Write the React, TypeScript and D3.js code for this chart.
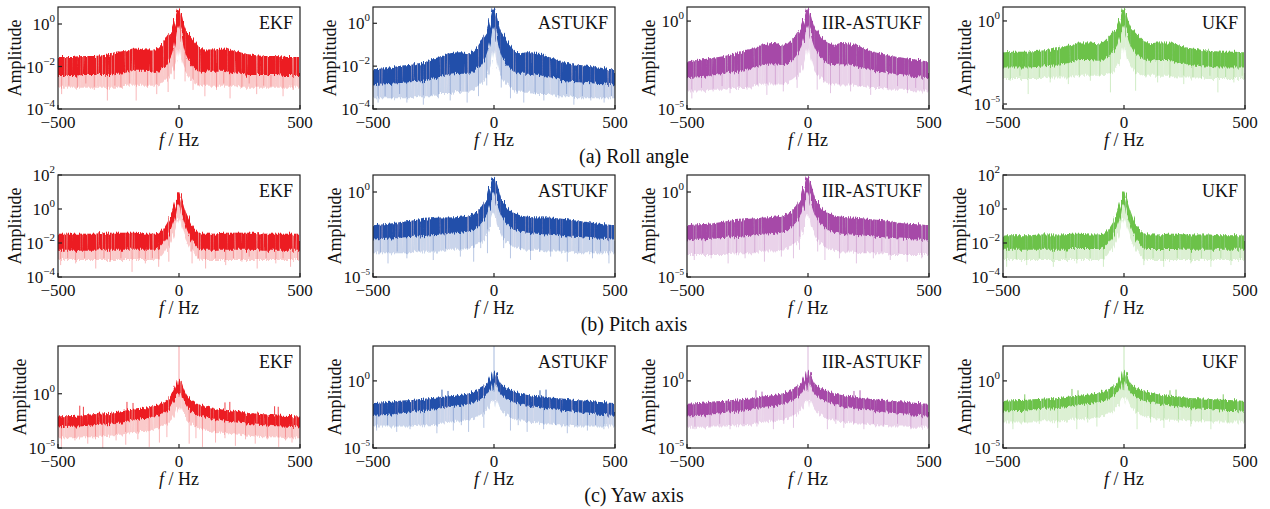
import React from "react";
import * as d3 from "d3";

// frequency grid (Hz) for the positive half, spectra are mirrored about 0
const FREQ_HALF = [0, 4, 8, 12, 18, 25, 35, 50, 70, 100, 140, 180, 220, 260, 300, 350, 400, 450, 500];
const FILTERS = ["EKF", "ASTUKF", "IIR-ASTUKF", "UKF"];
const COLORS = ["#ec1c24", "#2150aa", "#a64aa8", "#6cc24a"];
const ROW_CAPTIONS = ["(a) Roll angle", "(b) Pitch axis", "(c) Yaw axis"];
const X_TICKS = [-500, 0, 500];

// y ranges as log10 exponents, and the decade ticks shown
const ROLL_RANGES = [[-4, 0.8], [-4, 0.76], [-5, 0.8], [-5.3, 0.84]];
const PITCH_RANGES = [[-4, 2], [-5, 1], [-5, 1], [-4, 2]];
const YAW_RANGES = [[-5, 4.4], [-5, 2.6], [-5, 2.6], [-5, 2.6]];
const ROLL_TICKS = [[0, -2, -4], [0, -2, -4], [0, -5], [0, -5]];
const PITCH_TICKS = [[2, 0, -2, -4], [0, -5], [0, -5], [2, 0, -2, -4]];
const YAW_TICKS = [[0, -5], [0, -5], [0, -5], [0, -5]];

// log10 amplitude: top of band, lower edge of the dense core, lower edge of the light fringe
const ROLL_EKF_TOP = [0.75, 0.7, 0.55, 0.4, 0.1, -0.2, -0.4, -0.6, -0.9, -1.2, -1.2, -1.15, -1.25, -1.35, -1.45, -1.5, -1.5, -1.55, -1.55];
const ROLL_EKF_CORE = [-0.2, -0.1, -0.3, -0.6, -1.0, -1.3, -1.6, -1.9, -2.1, -2.3, -2.2, -2.2, -2.3, -2.35, -2.4, -2.4, -2.4, -2.45, -2.45];
const ROLL_EKF_FLOOR = [-1.5, -1.2, -1.5, -1.8, -2.0, -2.2, -2.4, -2.6, -2.8, -2.9, -2.9, -2.9, -2.9, -3.0, -3.0, -3.0, -3.0, -3.0, -3.0];
const ROLL_EKF_DIPS = [[-485, -3.3], [-455, -2.9], [-420, -3.0], [-385, -2.8], [-350, -3.1], [-296, -3.6], [-265, -2.9], [-240, -3.0], [-205, -2.8], [-177, -3.6], [-130, -3.0], [-92, -3.3], [-45, -3.2], [-20, -2.6], [25, -2.7], [58, -3.1], [80, -2.9], [107, -3.4], [155, -3.1], [185, -2.8], [211, -3.5], [260, -3.0], [290, -2.8], [321, -3.3], [350, -2.9], [380, -3.0], [430, -3.4], [471, -3.1]];

const ROLL_AST_TOP = [0.75, 0.7, 0.5, 0.3, 0.0, -0.3, -0.5, -0.75, -1.1, -1.4, -1.35, -1.4, -1.55, -1.7, -1.85, -1.95, -2.0, -2.1, -2.15];
const ROLL_AST_CORE = [-0.3, -0.2, -0.4, -0.7, -1.0, -1.3, -1.6, -1.9, -2.1, -2.35, -2.35, -2.4, -2.5, -2.6, -2.7, -2.75, -2.8, -2.85, -2.9];
const ROLL_AST_FLOOR = [-1.5, -1.3, -1.6, -1.9, -2.2, -2.4, -2.6, -2.8, -3.0, -3.2, -3.2, -3.3, -3.3, -3.4, -3.4, -3.5, -3.5, -3.5, -3.5];
const ROLL_AST_DIPS = [[-479, -3.7], [-450, -3.4], [-422, -3.5], [-390, -3.3], [-360, -3.7], [-292, -3.8], [-260, -3.4], [-230, -3.5], [-181, -3.6], [-140, -3.3], [-111, -3.7], [-64, -3.4], [-30, -2.9], [30, -3.0], [68, -3.5], [95, -3.3], [123, -3.7], [170, -3.3], [206, -3.6], [268, -3.5], [300, -3.3], [330, -3.8], [365, -3.4], [400, -3.6], [455, -3.7], [485, -3.4]];

const ROLL_IIR_TOP = [0.8, 0.7, 0.5, 0.3, 0.0, -0.3, -0.5, -0.8, -1.1, -1.35, -1.25, -1.3, -1.5, -1.7, -1.85, -2.0, -2.1, -2.2, -2.3];
const ROLL_IIR_CORE = [-0.4, -0.3, -0.5, -0.8, -1.1, -1.4, -1.7, -2.0, -2.3, -2.5, -2.45, -2.5, -2.65, -2.8, -2.9, -3.0, -3.1, -3.2, -3.25];
const ROLL_IIR_FLOOR = [-1.8, -1.6, -1.9, -2.2, -2.5, -2.8, -3.0, -3.2, -3.4, -3.6, -3.6, -3.6, -3.7, -3.8, -3.8, -3.9, -3.9, -4.0, -4.0];
const ROLL_IIR_DIPS = [[-480, -4.4], [-440, -3.8], [-392, -4.0], [-355, -3.7], [-322, -4.1], [-285, -3.7], [-252, -3.9], [-210, -3.6], [-170, -4.2], [-135, -3.6], [-102, -4.0], [-45, -3.8], [38, -3.9], [65, -3.5], [93, -4.1], [130, -3.6], [176, -4.0], [215, -3.7], [259, -4.2], [295, -3.7], [328, -3.9], [370, -3.7], [411, -4.1], [445, -3.8], [479, -4.0]];

const ROLL_UKF_TOP = [0.8, 0.75, 0.55, 0.3, 0.0, -0.3, -0.5, -0.75, -1.05, -1.35, -1.3, -1.3, -1.45, -1.6, -1.7, -1.8, -1.85, -1.85, -1.9];
const ROLL_UKF_CORE = [-0.4, -0.3, -0.5, -0.8, -1.1, -1.4, -1.7, -1.95, -2.2, -2.4, -2.35, -2.35, -2.5, -2.6, -2.7, -2.75, -2.8, -2.8, -2.8];
const ROLL_UKF_FLOOR = [-1.8, -1.6, -1.9, -2.2, -2.5, -2.7, -2.9, -3.1, -3.2, -3.3, -3.3, -3.3, -3.4, -3.4, -3.4, -3.5, -3.5, -3.5, -3.5];
const ROLL_UKF_DIPS = [[-470, -3.6], [-430, -3.3], [-396, -4.4], [-350, -3.4], [-305, -3.7], [-265, -3.3], [-230, -3.8], [-185, -3.4], [-139, -3.6], [-100, -3.3], [-56, -4.3], [48, -4.2], [90, -3.4], [139, -3.7], [190, -3.4], [247, -3.8], [285, -3.4], [320, -3.5], [355, -3.3], [388, -4.3], [420, -3.4], [454, -3.7], [488, -3.3]];

const PITCH_EKF_TOP = [1.0, 0.95, 0.8, 0.6, 0.3, -0.05, -0.4, -0.85, -1.25, -1.45, -1.45, -1.4, -1.4, -1.4, -1.4, -1.45, -1.45, -1.45, -1.45];
const PITCH_EKF_CORE = [0.3, 0.2, 0.0, -0.3, -0.6, -0.9, -1.3, -1.75, -2.15, -2.4, -2.4, -2.4, -2.4, -2.4, -2.4, -2.45, -2.45, -2.45, -2.45];
const PITCH_EKF_FLOOR = [-0.5, -0.6, -0.8, -1.1, -1.4, -1.7, -2.0, -2.4, -2.8, -3.0, -3.0, -3.0, -3.0, -3.0, -3.0, -3.0, -3.0, -3.0, -3.0];
const PITCH_EKF_DIPS = [[-489, -3.3], [-460, -2.9], [-427, -3.2], [-390, -2.9], [-344, -3.5], [-310, -2.9], [-283, -3.1], [-240, -2.9], [-194, -3.7], [-165, -2.9], [-139, -3.2], [-110, -2.9], [-84, -3.4], [-42, -3.1], [54, -3.2], [80, -2.9], [110, -3.5], [150, -2.9], [193, -3.3], [225, -2.9], [260, -3.1], [290, -2.8], [323, -3.5], [360, -2.9], [400, -3.2], [430, -2.9], [461, -3.4], [490, -3.0]];

const PITCH_AST_TOP = [0.9, 0.85, 0.7, 0.5, 0.2, -0.2, -0.5, -0.85, -1.15, -1.35, -1.45, -1.5, -1.5, -1.55, -1.6, -1.7, -1.8, -1.9, -1.95];
const PITCH_AST_CORE = [0.0, -0.1, -0.3, -0.6, -0.9, -1.2, -1.5, -1.8, -2.1, -2.3, -2.4, -2.45, -2.5, -2.55, -2.6, -2.65, -2.7, -2.75, -2.8];
const PITCH_AST_FLOOR = [-1.2, -1.3, -1.5, -1.8, -2.1, -2.4, -2.7, -2.9, -3.1, -3.3, -3.4, -3.4, -3.5, -3.5, -3.5, -3.6, -3.6, -3.6, -3.6];
const PITCH_AST_DIPS = [[-470, -3.6], [-438, -4.2], [-400, -3.5], [-360, -3.9], [-310, -3.5], [-251, -4.0], [-200, -3.5], [-139, -3.8], [-110, -3.4], [-84, -4.1], [-55, -3.3], [-27, -3.6], [40, -3.3], [68, -3.9], [110, -3.4], [151, -4.0], [190, -3.5], [234, -3.8], [270, -3.5], [303, -4.1], [350, -3.5], [407, -3.9], [440, -3.5], [475, -4.2]];

const PITCH_IIR_TOP = [0.95, 0.9, 0.75, 0.5, 0.2, -0.2, -0.5, -0.85, -1.15, -1.35, -1.45, -1.5, -1.55, -1.6, -1.65, -1.75, -1.85, -1.9, -1.95];
const PITCH_IIR_CORE = [0.0, -0.1, -0.3, -0.6, -0.9, -1.2, -1.5, -1.8, -2.1, -2.35, -2.45, -2.5, -2.55, -2.6, -2.65, -2.7, -2.75, -2.8, -2.85];
const PITCH_IIR_FLOOR = [-1.3, -1.4, -1.6, -1.9, -2.2, -2.5, -2.8, -3.0, -3.2, -3.4, -3.5, -3.5, -3.6, -3.6, -3.6, -3.7, -3.7, -3.7, -3.7];
const PITCH_IIR_DIPS = [[-470, -4.0], [-435, -3.6], [-400, -3.9], [-330, -4.2], [-295, -3.6], [-260, -3.9], [-220, -3.6], [-180, -4.1], [-110, -3.8], [-60, -3.9], [-35, -3.4], [40, -3.5], [70, -4.0], [130, -3.9], [165, -3.5], [200, -4.2], [235, -3.6], [270, -3.9], [305, -3.5], [340, -4.0], [375, -3.6], [410, -4.1], [470, -3.9]];

const PITCH_UKF_TOP = [1.05, 1.0, 0.85, 0.6, 0.3, -0.05, -0.45, -0.9, -1.3, -1.5, -1.5, -1.45, -1.45, -1.5, -1.5, -1.5, -1.55, -1.55, -1.57];
const PITCH_UKF_CORE = [0.3, 0.2, 0.0, -0.3, -0.6, -0.9, -1.3, -1.75, -2.15, -2.35, -2.35, -2.35, -2.35, -2.4, -2.4, -2.4, -2.4, -2.4, -2.4];
const PITCH_UKF_FLOOR = [-0.5, -0.6, -0.8, -1.1, -1.4, -1.7, -2.0, -2.4, -2.8, -3.0, -3.0, -3.0, -3.0, -3.0, -3.0, -3.0, -3.0, -3.0, -3.0];
const PITCH_UKF_DIPS = [[-485, -3.4], [-445, -3.0], [-402, -3.3], [-350, -2.9], [-292, -3.4], [-240, -2.9], [-195, -3.2], [-140, -2.9], [-85, -3.4], [82, -3.3], [120, -2.9], [164, -3.4], [220, -2.9], [276, -3.2], [320, -2.9], [359, -3.4], [400, -2.9], [442, -3.3], [480, -3.0]];

const YAW_EKF_TOP = [0.8, 1.2, 1.3, 1.0, 0.6, 0.2, -0.2, -0.55, -0.85, -1.1, -1.3, -1.45, -1.55, -1.7, -1.8, -1.9, -2.0, -2.05, -2.1];
const YAW_EKF_CORE = [-0.3, 0.0, 0.1, -0.2, -0.6, -0.9, -1.3, -1.6, -1.9, -2.1, -2.3, -2.45, -2.6, -2.7, -2.8, -2.9, -3.0, -3.05, -3.1];
const YAW_EKF_FLOOR = [-1.5, -1.3, -1.2, -1.5, -1.9, -2.2, -2.5, -2.8, -3.0, -3.3, -3.5, -3.6, -3.7, -3.8, -3.9, -4.0, -4.0, -4.1, -4.1];
const YAW_EKF_DIPS = [[-486, -4.9], [-430, -4.3], [-377, -4.6], [-345, -4.2], [-315, -5.0], [-260, -4.3], [-220, -4.7], [-170, -4.2], [-123, -4.9], [-81, -4.5], [-50, -4.0], [42, -4.6], [70, -4.1], [97, -4.9], [151, -4.5], [190, -4.1], [233, -4.8], [275, -4.2], [315, -4.6], [365, -4.2], [412, -4.9], [440, -4.3], [467, -4.5]];
const YAW_EKF_PEAKS = [[-410, -1.1], [-395, -1.2], [-215, -0.75], [-190, -0.85], [0, 4.5], [190, -0.8], [210, -0.75], [395, -1.15], [410, -1.2]];

const YAW_AST_TOP = [0.1, 0.6, 0.7, 0.5, 0.2, -0.1, -0.3, -0.5, -0.7, -0.9, -1.05, -1.15, -1.2, -1.3, -1.35, -1.45, -1.5, -1.6, -1.65];
const YAW_AST_CORE = [-0.8, -0.3, -0.2, -0.4, -0.7, -0.9, -1.1, -1.3, -1.5, -1.7, -1.85, -1.95, -2.05, -2.15, -2.25, -2.35, -2.45, -2.55, -2.6];
const YAW_AST_FLOOR = [-2.0, -1.5, -1.4, -1.6, -1.9, -2.1, -2.3, -2.5, -2.7, -2.9, -3.0, -3.1, -3.2, -3.3, -3.3, -3.4, -3.4, -3.4, -3.4];
const YAW_AST_DIPS = [[-485, -3.7], [-440, -3.3], [-402, -3.8], [-347, -3.6], [-290, -3.3], [-236, -3.9], [-168, -3.7], [-135, -3.3], [-105, -3.8], [-42, -3.5], [68, -3.7], [100, -3.3], [137, -3.8], [205, -3.6], [255, -3.3], [303, -3.9], [345, -3.3], [386, -3.7], [420, -3.3], [454, -3.6]];
const YAW_AST_PEAKS = [[-215, -0.65], [-190, -0.75], [0, 2.7], [190, -0.7], [215, -0.65]];

const YAW_IIR_TOP = [0.2, 0.65, 0.75, 0.5, 0.2, -0.1, -0.3, -0.5, -0.7, -0.9, -1.05, -1.15, -1.25, -1.35, -1.4, -1.5, -1.55, -1.65, -1.7];
const YAW_IIR_CORE = [-0.8, -0.3, -0.2, -0.4, -0.7, -0.9, -1.1, -1.3, -1.5, -1.7, -1.9, -2.0, -2.1, -2.2, -2.3, -2.4, -2.5, -2.6, -2.65];
const YAW_IIR_FLOOR = [-2.0, -1.5, -1.4, -1.6, -1.9, -2.1, -2.3, -2.5, -2.7, -2.9, -3.0, -3.1, -3.2, -3.3, -3.3, -3.4, -3.4, -3.5, -3.5];
const YAW_IIR_DIPS = [[-467, -3.6], [-405, -3.5], [-365, -3.2], [-322, -3.6], [-265, -3.2], [-211, -3.4], [-143, -3.6], [-100, -3.2], [-60, -3.5], [80, -3.6], [115, -3.2], [148, -3.5], [190, -3.2], [231, -3.6], [270, -3.2], [313, -3.4], [370, -3.2], [425, -3.6], [470, -3.3]];
const YAW_IIR_PEAKS = [[-215, -0.7], [-190, -0.8], [0, 2.7], [190, -0.75], [215, -0.7]];

const YAW_UKF_TOP = [0.2, 0.65, 0.75, 0.5, 0.2, -0.1, -0.3, -0.5, -0.7, -0.85, -1.0, -1.1, -1.15, -1.25, -1.3, -1.35, -1.4, -1.45, -1.5];
const YAW_UKF_CORE = [-0.7, -0.2, -0.1, -0.3, -0.6, -0.8, -1.0, -1.2, -1.4, -1.55, -1.7, -1.8, -1.9, -2.0, -2.05, -2.1, -2.2, -2.25, -2.3];
const YAW_UKF_FLOOR = [-1.8, -1.3, -1.2, -1.4, -1.7, -1.9, -2.1, -2.3, -2.5, -2.7, -2.8, -2.9, -2.9, -3.0, -3.0, -3.0, -3.1, -3.1, -3.1];
const YAW_UKF_DIPS = [[-459, -3.6], [-410, -3.1], [-350, -3.2], [-274, -3.5], [-195, -3.6], [-150, -3.1], [-112, -3.4], [54, -3.6], [110, -3.1], [165, -3.5], [225, -3.1], [276, -3.4], [320, -3.1], [359, -3.6], [430, -3.1]];
const YAW_UKF_PEAKS = [[-410, -1.0], [-215, -0.6], [-190, -0.7], [0, 2.7], [190, -0.7], [215, -0.65], [410, -1.0]];

const ROWS = [
  [
    [ROLL_EKF_TOP, ROLL_EKF_CORE, ROLL_EKF_FLOOR, ROLL_EKF_DIPS, []],
    [ROLL_AST_TOP, ROLL_AST_CORE, ROLL_AST_FLOOR, ROLL_AST_DIPS, []],
    [ROLL_IIR_TOP, ROLL_IIR_CORE, ROLL_IIR_FLOOR, ROLL_IIR_DIPS, []],
    [ROLL_UKF_TOP, ROLL_UKF_CORE, ROLL_UKF_FLOOR, ROLL_UKF_DIPS, []],
  ],
  [
    [PITCH_EKF_TOP, PITCH_EKF_CORE, PITCH_EKF_FLOOR, PITCH_EKF_DIPS, []],
    [PITCH_AST_TOP, PITCH_AST_CORE, PITCH_AST_FLOOR, PITCH_AST_DIPS, []],
    [PITCH_IIR_TOP, PITCH_IIR_CORE, PITCH_IIR_FLOOR, PITCH_IIR_DIPS, []],
    [PITCH_UKF_TOP, PITCH_UKF_CORE, PITCH_UKF_FLOOR, PITCH_UKF_DIPS, []],
  ],
  [
    [YAW_EKF_TOP, YAW_EKF_CORE, YAW_EKF_FLOOR, YAW_EKF_DIPS, YAW_EKF_PEAKS],
    [YAW_AST_TOP, YAW_AST_CORE, YAW_AST_FLOOR, YAW_AST_DIPS, YAW_AST_PEAKS],
    [YAW_IIR_TOP, YAW_IIR_CORE, YAW_IIR_FLOOR, YAW_IIR_DIPS, YAW_IIR_PEAKS],
    [YAW_UKF_TOP, YAW_UKF_CORE, YAW_UKF_FLOOR, YAW_UKF_DIPS, YAW_UKF_PEAKS],
  ],
];
const RANGES = [ROLL_RANGES, PITCH_RANGES, YAW_RANGES];
const TICKS = [ROLL_TICKS, PITCH_TICKS, YAW_TICKS];

// layout
const COL_LEFT = [58, 373, 687, 1003];
const ROW_TOP = [7, 175, 346];
const PW = 242;
const PH = 102;
const FONT = "'Liberation Serif', 'Times New Roman', serif";

const FREQ = [...FREQ_HALF.slice(1).reverse().map((f) => -f), ...FREQ_HALF];
const mirror = (half: number[]) => [...half.slice(1).reverse(), ...half];
const exp = (e: number) => (e < 0 ? "\u2212" + Math.abs(e) : String(e));

function Panel({ r, c }: { r: number; c: number }) {
  const [top, core, floor, dips, peaks] = ROWS[r][c] as any;
  const [lo, hi] = RANGES[r][c];
  const ticks = TICKS[r][c];
  const color = COLORS[c];
  const x = d3.scaleLinear().domain([-500, 500]).range([0, PW]);
  const y = d3.scaleLog().domain([10 ** lo, 10 ** hi]).range([PH, 0]);
  const up = mirror(top);
  const mid = mirror(core);
  const bot = mirror(floor);
  const pts = FREQ.map((f, i) => ({ f, up: 10 ** up[i], mid: 10 ** mid[i], bot: 10 ** bot[i] }));
  const coreAt = d3.scaleLinear().domain(FREQ).range(mid);
  const topAt = d3.scaleLinear().domain(FREQ).range(up);
  const fringe = d3.area<any>().x((d) => x(d.f)).y0((d) => y(d.bot)).y1((d) => y(d.up)).curve(d3.curveMonotoneX);
  const dense = d3.area<any>().x((d) => x(d.f)).y0((d) => y(d.mid)).y1((d) => y(d.up)).curve(d3.curveMonotoneX);
  const wide = ticks.some((t: number) => t < 0 && t > -5);
  const id = `clip-${r}-${c}`;
  return (
    <g transform={`translate(${COL_LEFT[c]},${ROW_TOP[r]})`}>
      <clipPath id={id}>
        <rect width={PW} height={PH} />
      </clipPath>
      <g clipPath={`url(#${id})`}>
        {dips.map(([f, v]: number[], i: number) => (
          <line key={"d" + i} x1={x(f)} x2={x(f)} y1={y(10 ** v)} y2={y(10 ** coreAt(f))} stroke={color} strokeOpacity={0.4} strokeWidth={0.8} />
        ))}
        <g filter="url(#rough)">
          <path d={fringe(pts) || ""} fill={color} fillOpacity={0.24} />
          <path d={dense(pts) || ""} fill={color} />
        </g>
        {peaks.map(([f, v]: number[], i: number) => (
          <line key={"p" + i} x1={x(f)} x2={x(f)} y1={y(10 ** v)} y2={y(10 ** (f === 0 ? coreAt(f) : topAt(f)))} stroke={color} strokeOpacity={f === 0 ? 0.4 : 0.85} strokeWidth={1} />
        ))}
      </g>
      <rect width={PW} height={PH} fill="none" stroke="#222" strokeWidth={1.2} />
      {ticks.map((t: number) => (
        <g key={t}>
          <line x1={0} x2={4} y1={y(10 ** t)} y2={y(10 ** t)} stroke="#222" strokeWidth={1.2} />
          <text x={-3} y={y(10 ** t) + 6} textAnchor="end" fontSize={17} fontFamily={FONT} fill="#111">
            10<tspan dy={-8} fontSize={t <= -5 ? 9 : 11}>{exp(t)}</tspan>
          </text>
        </g>
      ))}
      {X_TICKS.map((t) => (
        <g key={t}>
          <line x1={x(t)} x2={x(t)} y1={PH} y2={PH - 4} stroke="#222" strokeWidth={1.2} />
          <text x={x(t)} y={PH + 19} textAnchor="middle" fontSize={17} fontFamily={FONT} fill="#111">
            {t < 0 ? "\u2212" + Math.abs(t) : t}
          </text>
        </g>
      ))}
      <text x={PW / 2} y={PH + 37} textAnchor="middle" fontSize={18} fontFamily={FONT} fill="#111">
        <tspan fontStyle="italic">f</tspan> / Hz
      </text>
      <text transform={`translate(${wide ? -37 : -32},${PH / 2}) rotate(-90)`} textAnchor="middle" fontSize={18} fontFamily={FONT} fill="#111">
        Amplitude
      </text>
      <text x={PW - 7} y={22} textAnchor="end" fontSize={18} fontFamily={FONT} fill="#111">
        {FILTERS[c]}
      </text>
    </g>
  );
}

export default function App() {
  return (
    <svg width={1270} height={509} style={{ position: "absolute", left: 0, top: 0, background: "#fff" }}>
      <defs>
        {/* roughens the band edges and streaks it lightly, like a dense FFT trace */}
        <filter id="rough" x="-2%" y="-30%" width="104%" height="160%">
          <feTurbulence type="fractalNoise" baseFrequency="0.7 0.02" numOctaves={2} seed={4} result="n" />
          <feDisplacementMap in="SourceGraphic" in2="n" scale={7} xChannelSelector="B" yChannelSelector="R" result="d" />
          <feTurbulence type="fractalNoise" baseFrequency="1.2 0.01" numOctaves={1} seed={9} result="s" />
          <feColorMatrix in="s" type="matrix" values="0 0 0 0 1  0 0 0 0 1  0 0 0 0 1  1.4 0 0 0 -0.82" result="w" />
          <feComposite in="w" in2="d" operator="in" result="wm" />
          <feMerge>
            <feMergeNode in="d" />
            <feMergeNode in="wm" />
          </feMerge>
        </filter>
      </defs>
      {ROWS.map((row, r) => row.map((_, c) => <Panel key={`${r}-${c}`} r={r} c={c} />))}
      {ROW_CAPTIONS.map((t, r) => (
        <text key={t} x={634} y={ROW_TOP[r] + PH + 54} textAnchor="middle" fontSize={20} fontFamily={FONT} fill="#111">
          {t}
        </text>
      ))}
    </svg>
  );
}
